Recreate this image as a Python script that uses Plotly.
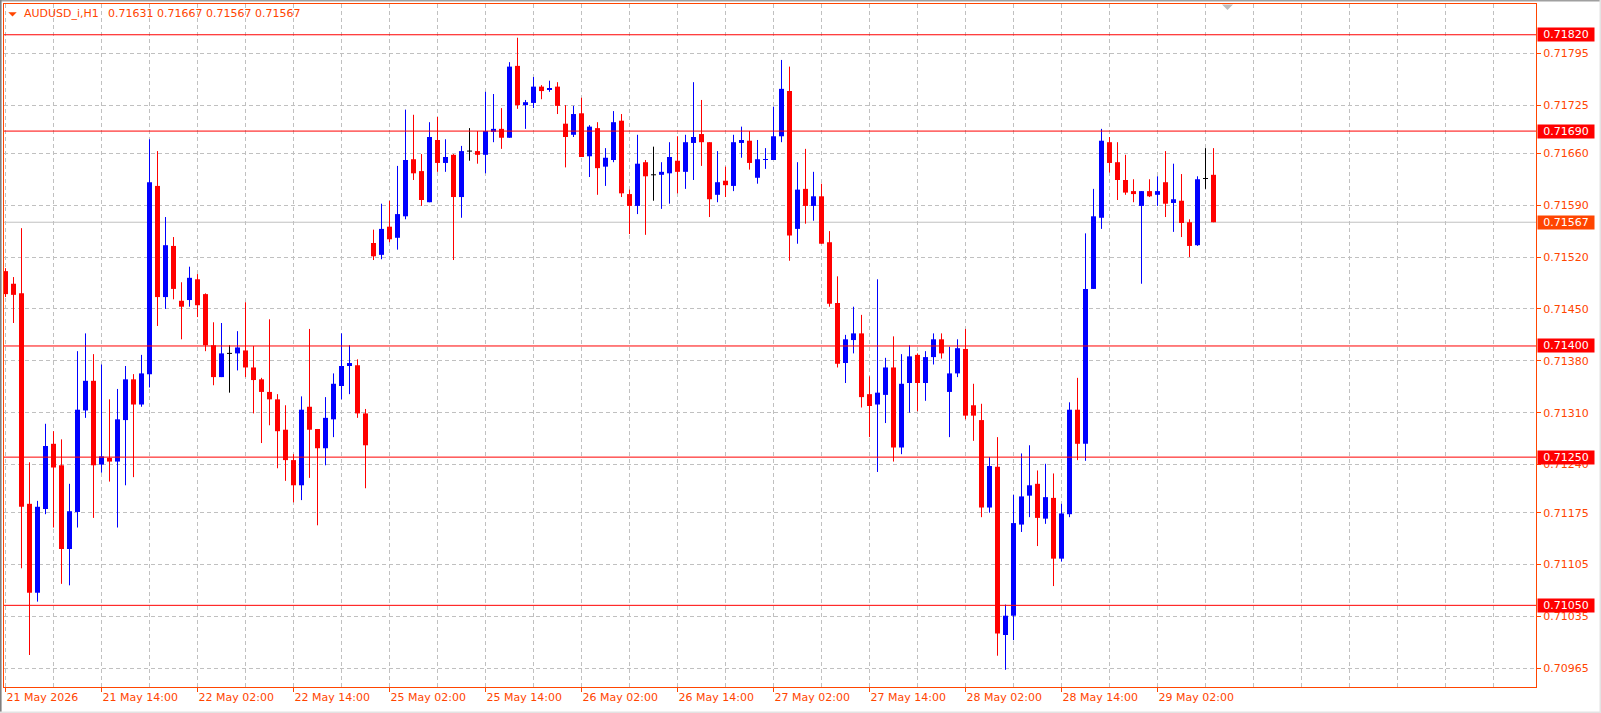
import plotly.graph_objects as go

# ---------------- data (AUDUSD_i, H1) ----------------
symbol_title = "AUDUSD_i,H1"
title_ohlc = "0.71631 0.71667 0.71567 0.71567"

open_ = [0.71501, 0.71484, 0.71471, 0.71187, 0.71067, 0.71180, 0.71268, 0.71239, 0.71126, 0.71176,
         0.71313, 0.71353, 0.71240, 0.71249, 0.71244, 0.71300, 0.71355, 0.71321, 0.71362, 0.71616,
         0.71466, 0.71535, 0.71461, 0.71462, 0.71490, 0.71470, 0.71401, 0.71358, 0.71390, 0.71390,
         0.71394, 0.71371, 0.71355, 0.71338, 0.71328, 0.71287, 0.71246, 0.71212, 0.71318, 0.71288,
         0.71262, 0.71301, 0.71346, 0.71373, 0.71374, 0.71309, 0.71539, 0.71523, 0.71561, 0.71546,
         0.71575, 0.71652, 0.71636, 0.71594, 0.71678, 0.71647, 0.71658, 0.71601, 0.71663, 0.71663,
         0.71658, 0.71689, 0.71693, 0.71681, 0.71778, 0.71725, 0.71728, 0.71750, 0.71746, 0.71750,
         0.71700, 0.71685, 0.71714, 0.71656, 0.71694, 0.71642, 0.71651, 0.71704, 0.71605, 0.71589,
         0.71648, 0.71631, 0.71631, 0.71633, 0.71650, 0.71635, 0.71674, 0.71686, 0.71675, 0.71604,
         0.71623, 0.71616, 0.71674, 0.71677, 0.71627, 0.71651, 0.71651, 0.71683, 0.71744, 0.71558,
         0.71612, 0.71589, 0.71602, 0.71540, 0.71458, 0.71377, 0.71408, 0.71417, 0.71335, 0.71321,
         0.71334, 0.71371, 0.71263, 0.71350, 0.71388, 0.71350, 0.71385, 0.71409, 0.71338, 0.71363,
         0.71396, 0.71320, 0.71300, 0.71182, 0.71237, 0.71010, 0.71036, 0.71159, 0.71198, 0.71214,
         0.71167, 0.71195, 0.71113, 0.71173, 0.71314, 0.71268, 0.71477, 0.71573, 0.71675, 0.71648,
         0.71624, 0.71609, 0.71589, 0.71609, 0.71604, 0.71621, 0.71593, 0.71596, 0.71567, 0.71536,
         0.71626, 0.71631]

high_ = [0.71505, 0.71493, 0.71559, 0.71243, 0.71191, 0.71295, 0.71285, 0.71274, 0.71214, 0.71393,
         0.71417, 0.71389, 0.71375, 0.71328, 0.71342, 0.71373, 0.71362, 0.71388, 0.71679, 0.71663,
         0.71574, 0.71547, 0.71486, 0.71507, 0.71497, 0.71471, 0.71432, 0.71431, 0.71401, 0.71420,
         0.71459, 0.71400, 0.71357, 0.71436, 0.71335, 0.71320, 0.71254, 0.71332, 0.71423, 0.71288,
         0.71331, 0.71363, 0.71417, 0.71401, 0.71382, 0.71315, 0.71557, 0.71592, 0.71596, 0.71643,
         0.71719, 0.71712, 0.71659, 0.71702, 0.71709, 0.71679, 0.71659, 0.71670, 0.71694, 0.71690,
         0.71743, 0.71740, 0.71721, 0.71783, 0.71816, 0.71732, 0.71763, 0.71752, 0.71758, 0.71756,
         0.71725, 0.71724, 0.71735, 0.71698, 0.71702, 0.71667, 0.71717, 0.71713, 0.71611, 0.71685,
         0.71651, 0.71669, 0.71648, 0.71675, 0.71683, 0.71685, 0.71756, 0.71732, 0.71675, 0.71663,
         0.71642, 0.71685, 0.71696, 0.71690, 0.71678, 0.71667, 0.71723, 0.71786, 0.71777, 0.71648,
         0.71666, 0.71635, 0.71619, 0.71555, 0.71494, 0.71415, 0.71453, 0.71442, 0.71359, 0.71490,
         0.71384, 0.71413, 0.71389, 0.71401, 0.71390, 0.71393, 0.71417, 0.71417, 0.71399, 0.71409,
         0.71423, 0.71349, 0.71322, 0.71250, 0.71277, 0.71051, 0.71199, 0.71255, 0.71266, 0.71232,
         0.71241, 0.71228, 0.71187, 0.71324, 0.71357, 0.71552, 0.71612, 0.71693, 0.71682, 0.71675,
         0.71658, 0.71625, 0.71609, 0.71625, 0.71629, 0.71663, 0.71646, 0.71632, 0.71571, 0.71629,
         0.71667, 0.71667]

low_ = [0.71466, 0.71431, 0.71100, 0.70983, 0.71055, 0.71173, 0.71155, 0.71079, 0.71077, 0.71155,
        0.71303, 0.71168, 0.71229, 0.71217, 0.71155, 0.71212, 0.71223, 0.71318, 0.71344, 0.71427,
        0.71450, 0.71463, 0.71409, 0.71453, 0.71439, 0.71393, 0.71347, 0.71358, 0.71337, 0.71367,
        0.71358, 0.71309, 0.71269, 0.71293, 0.71235, 0.71218, 0.71189, 0.71192, 0.71222, 0.71158,
        0.71239, 0.71277, 0.71328, 0.71335, 0.71303, 0.71208, 0.71516, 0.71517, 0.71540, 0.71530,
        0.71571, 0.71624, 0.71589, 0.71594, 0.71635, 0.71635, 0.71516, 0.71573, 0.71650, 0.71646,
        0.71633, 0.71675, 0.71666, 0.71681, 0.71720, 0.71693, 0.71721, 0.71733, 0.71743, 0.71713,
        0.71641, 0.71682, 0.71655, 0.71628, 0.71604, 0.71616, 0.71648, 0.71601, 0.71551, 0.71578,
        0.71550, 0.71596, 0.71585, 0.71592, 0.71606, 0.71612, 0.71624, 0.71643, 0.71574, 0.71594,
        0.71601, 0.71609, 0.71654, 0.71638, 0.71619, 0.71639, 0.71651, 0.71675, 0.71515, 0.71538,
        0.71565, 0.71569, 0.71538, 0.71453, 0.71371, 0.71350, 0.71390, 0.71317, 0.71277, 0.71230,
        0.71296, 0.71244, 0.71254, 0.71310, 0.71312, 0.71326, 0.71375, 0.71383, 0.71277, 0.71358,
        0.71301, 0.71272, 0.71169, 0.71175, 0.70982, 0.70963, 0.71003, 0.71149, 0.71169, 0.71130,
        0.71160, 0.71076, 0.71109, 0.71169, 0.71246, 0.71245, 0.71477, 0.71558, 0.71634, 0.71597,
        0.71604, 0.71594, 0.71484, 0.71601, 0.71589, 0.71574, 0.71554, 0.71547, 0.71520, 0.71535,
        0.71612, 0.71567]

close_ = [0.71470, 0.71469, 0.71183, 0.71067, 0.71183, 0.71265, 0.71236, 0.71126, 0.71177, 0.71314,
          0.71353, 0.71239, 0.71251, 0.71244, 0.71301, 0.71355, 0.71321, 0.71363, 0.71621, 0.71466,
          0.71536, 0.71477, 0.71453, 0.71492, 0.71455, 0.71401, 0.71358, 0.71390, 0.71390, 0.71398,
          0.71371, 0.71354, 0.71338, 0.71328, 0.71285, 0.71246, 0.71212, 0.71314, 0.71287, 0.71262,
          0.71303, 0.71349, 0.71373, 0.71377, 0.71309, 0.71266, 0.71521, 0.71558, 0.71544, 0.71578,
          0.71651, 0.71633, 0.71597, 0.71682, 0.71647, 0.71655, 0.71601, 0.71663, 0.71663, 0.71658,
          0.71690, 0.71693, 0.71681, 0.71777, 0.71725, 0.71729, 0.71750, 0.71744, 0.71748, 0.71724,
          0.71682, 0.71713, 0.71655, 0.71696, 0.71640, 0.71654, 0.71702, 0.71606, 0.71589, 0.71646,
          0.71629, 0.71631, 0.71635, 0.71655, 0.71635, 0.71675, 0.71682, 0.71675, 0.71598, 0.71621,
          0.71617, 0.71675, 0.71678, 0.71647, 0.71652, 0.71652, 0.71683, 0.71747, 0.71549, 0.71611,
          0.71589, 0.71602, 0.71538, 0.71457, 0.71376, 0.71409, 0.71417, 0.71331, 0.71319, 0.71337,
          0.71371, 0.71263, 0.71349, 0.71386, 0.71350, 0.71385, 0.71409, 0.71390, 0.71363, 0.71397,
          0.71306, 0.71306, 0.71182, 0.71238, 0.71012, 0.71036, 0.71161, 0.71197, 0.71212, 0.71168,
          0.71196, 0.71113, 0.71174, 0.71314, 0.71268, 0.71477, 0.71575, 0.71677, 0.71647, 0.71624,
          0.71607, 0.71605, 0.71609, 0.71602, 0.71609, 0.71592, 0.71598, 0.71566, 0.71535, 0.71625,
          0.71626, 0.71567]

x_tick_bars = [0, 12, 24, 36, 48, 60, 72, 84, 96, 108, 120, 132, 144]
x_tick_labels = ["21 May 2026", "21 May 14:00", "22 May 02:00", "22 May 14:00", "25 May 02:00",
                 "25 May 14:00", "26 May 02:00", "26 May 14:00", "27 May 02:00", "27 May 14:00",
                 "28 May 02:00", "28 May 14:00", "29 May 02:00"]

y_tick_values = [0.70965, 0.71035, 0.71105, 0.71175, 0.71240, 0.71310, 0.71380,
                 0.71450, 0.71520, 0.71590, 0.71660, 0.71725, 0.71795]

level_prices = [0.71820, 0.71690, 0.71400, 0.71250, 0.71050]
last_price = 0.71567

# ---------------- style ----------------
BULL = "#0000FF"
BEAR = "#FF0000"
DOJI = "#000000"
AXIS = "#FF4500"
GRID = "#C0C0C0"
LEVEL = "#FF0000"
FONT = "DejaVu Sans"

W, H = 1601, 713
ML, MR, MT, MB = 4, 65, 4, 26
PW = W - ML - MR          # 1532
PH = H - MT - MB          # 683
BAR_PX = 8.0
X0 = -0.1875
X1 = X0 + PW / BAR_PX
Y_RANGE = [0.709398, 0.718615]
BODY_W = 0.625

n = len(open_)
groups = {"bull": ([], [], []), "bear": ([], [], []), "doji": ([], [], [])}
wicks = {"bull": ([], []), "bear": ([], []), "doji": ([], [])}
for i in range(n):
    o, h, l, c = open_[i], high_[i], low_[i], close_[i]
    if c > o:
        k = "bull"
    elif c < o:
        k = "bear"
    else:
        k = "doji"
    bx, bb, bh = groups[k]
    bx.append(i)
    bb.append(min(o, c))
    bh.append(abs(c - o))
    wx, wy = wicks[k]
    wx += [i, i, None]
    wy += [l, h, None]
    if k == "doji":
        wx += [i - BODY_W / 2, i + BODY_W / 2, None]
        wy += [o, o, None]

colors = {"bull": BULL, "bear": BEAR, "doji": DOJI}
fig = go.Figure()
for k in ("bull", "bear", "doji"):
    wx, wy = wicks[k]
    fig.add_trace(go.Scatter(x=wx, y=wy, mode="lines", line=dict(color=colors[k], width=1),
                             hoverinfo="skip", showlegend=False))
for k in ("bull", "bear"):
    bx, bb, bh = groups[k]
    fig.add_trace(go.Bar(x=bx, base=bb, y=bh, width=BODY_W, marker=dict(color=colors[k], line=dict(width=0)),
                         hoverinfo="skip", showlegend=False))

shapes = []
# current price line (behind candles)
shapes.append(dict(type="line", xref="paper", x0=0, x1=1, yref="y", y0=last_price, y1=last_price,
                   line=dict(color=GRID, width=1), layer="below"))
for p in level_prices:
    shapes.append(dict(type="line", xref="paper", x0=0, x1=1, yref="y", y0=p, y1=p,
                       line=dict(color=LEVEL, width=1), layer="above"))

def px_x(x):
    return (x - ML) / PW

def px_y(y):
    return (H - MB - y) / PH

# title triangle
shapes.append(dict(type="path", xref="paper", yref="paper",
                   path=f"M {px_x(8.3)},{px_y(12.3)} L {px_x(16.7)},{px_y(12.3)} L {px_x(12.5)},{px_y(16.5)} Z",
                   fillcolor=AXIS, line=dict(width=0), layer="above"))
# chart shift marker
shapes.append(dict(type="path", xref="paper", yref="paper",
                   path=f"M {px_x(1222)},{px_y(4.5)} L {px_x(1233)},{px_y(4.5)} L {px_x(1227.5)},{px_y(10)} Z",
                   fillcolor="#BDBDBD", line=dict(width=0), layer="above"))
# window frame
shapes.append(dict(type="rect", xref="paper", yref="paper", x0=px_x(0), x1=px_x(W), y0=px_y(1.6), y1=px_y(0),
                   fillcolor="#A0A0A0", line=dict(width=0), layer="above"))
shapes.append(dict(type="rect", xref="paper", yref="paper", x0=px_x(0), x1=px_x(1.6), y0=px_y(H), y1=px_y(0),
                   fillcolor="#808080", line=dict(width=0), layer="above"))
shapes.append(dict(type="rect", xref="paper", yref="paper", x0=px_x(W - 1.5), x1=px_x(W), y0=px_y(H), y1=px_y(0),
                   fillcolor="#E3E3E3", line=dict(width=0), layer="above"))
shapes.append(dict(type="rect", xref="paper", yref="paper", x0=px_x(0), x1=px_x(W), y0=px_y(H), y1=px_y(H - 1.5),
                   fillcolor="#E3E3E3", line=dict(width=0), layer="above"))

annotations = []
annotations.append(dict(xref="paper", yref="paper", x=px_x(22), y=px_y(14), xanchor="left", yanchor="middle",
                        text=symbol_title, showarrow=False, font=dict(family=FONT, size=11, color=AXIS)))
annotations.append(dict(xref="paper", yref="paper", x=px_x(106), y=px_y(14), xanchor="left", yanchor="middle",
                        text=title_ohlc, showarrow=False, font=dict(family=FONT, size=11, color=AXIS)))
for p in level_prices:
    annotations.append(dict(xref="paper", x=1, xanchor="left", xshift=1, yref="y", y=p, yanchor="middle",
                            text=f"{p:.5f}", showarrow=False, width=56, height=13, align="center",
                            bgcolor=LEVEL, borderpad=0, font=dict(family=FONT, size=11, color="#FFFFFF")))
annotations.append(dict(xref="paper", x=1, xanchor="left", xshift=1, yref="y", y=last_price, yanchor="middle",
                        text=f"{last_price:.5f}", showarrow=False, width=56, height=13, align="center",
                        bgcolor=AXIS, borderpad=0, font=dict(family=FONT, size=11, color="#FFFFFF")))

fig.update_layout(
    width=W, height=H, autosize=False,
    margin=dict(l=ML, r=MR, t=MT, b=MB, pad=0),
    paper_bgcolor="#FFFFFF", plot_bgcolor="#FFFFFF",
    showlegend=False, barmode="overlay", hovermode=False,
    shapes=shapes, annotations=annotations,
    font=dict(family=FONT, size=11, color=AXIS),
)
fig.update_xaxes(
    range=[X0, X1], tickmode="array", tickvals=x_tick_bars, ticktext=x_tick_labels,
    ticks="outside", ticklen=4, tickwidth=1, tickcolor=AXIS,
    ticklabelposition="outside right",
    tickfont=dict(family=FONT, size=11, color=AXIS),
    showline=True, linecolor=AXIS, linewidth=1, mirror=True,
    showgrid=True, gridcolor=GRID, gridwidth=1, griddash="4px,3px",
    minor=dict(tickmode="linear", tick0=0, dtick=6, showgrid=True, gridcolor=GRID, gridwidth=1,
               griddash="4px,3px", ticks=""),
    zeroline=False, fixedrange=True,
)
fig.update_yaxes(
    range=Y_RANGE, side="right", tickmode="array", tickvals=y_tick_values, tickformat=".5f",
    ticks="outside", ticklen=4, tickwidth=1, tickcolor=AXIS,
    tickfont=dict(family=FONT, size=11, color=AXIS),
    showline=True, linecolor=AXIS, linewidth=1, mirror=True,
    showgrid=True, gridcolor=GRID, gridwidth=1, griddash="4px,3px",
    zeroline=False, fixedrange=True,
)

fig.write_html("out.html", config={"displayModeBar": False})
